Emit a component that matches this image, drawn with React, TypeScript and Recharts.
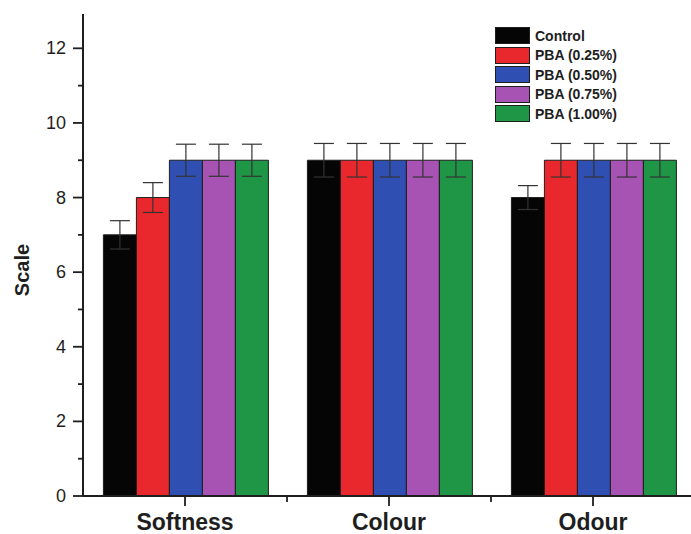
import React from 'react';
import { BarChart, Bar, XAxis, YAxis, ErrorBar, Legend, Label } from 'recharts';

const categories = ['Softness', 'Colour', 'Odour'];
const seriesNames = ['Control', 'PBA (0.25%)', 'PBA (0.50%)', 'PBA (0.75%)', 'PBA (1.00%)'];
const controlValues = [7, 9, 8];
const pba025Values = [8, 9, 9];
const pba050Values = [9, 9, 9];
const pba075Values = [9, 9, 9];
const pba100Values = [9, 9, 9];
const controlErr = [0.38, 0.45, 0.32];
const pba025Err = [0.4, 0.45, 0.45];
const pba050Err = [0.43, 0.45, 0.45];
const pba075Err = [0.43, 0.45, 0.45];
const pba100Err = [0.43, 0.45, 0.45];
const yTicks = [0, 1, 2, 3, 4, 5, 6, 7, 8, 9, 10, 11, 12];
const yMax = 12.92;

const colors = ['#050505', '#e8282c', '#2f4fb2', '#a653b3', '#1f9546'];
const keys = ['c', 'p1', 'p2', 'p3', 'p4'];
const valueArrays = [controlValues, pba025Values, pba050Values, pba075Values, pba100Values];
const errArrays = [controlErr, pba025Err, pba050Err, pba075Err, pba100Err];

const data = categories.map((name, i) => {
  const row: any = { name };
  keys.forEach((k, s) => {
    row[k] = valueArrays[s][i];
    row[k + 'Err'] = errArrays[s][i];
  });
  return row;
});

const FONT = '"Liberation Sans", Arial, Helvetica, sans-serif';
const CHART_W = 700;
const CHART_H = 534;
const MARGIN = { top: 14, right: 5, left: 0, bottom: 0 };
const Y_W = 83;
const X_H = 38;
const BAND = (CHART_W - MARGIN.left - MARGIN.right - Y_W) / categories.length;
const INK = '#1e1e1e';

const YTick = (props: any) => {
  const { x, y, payload } = props;
  const v = Number(payload.value);
  const major = Math.round(v) % 2 === 0;
  const len = major ? 10 : 5;
  return (
    <g>
      <path d={`M${x - len},${y}H${x}`} stroke={INK} strokeWidth={1.8} fill="none" />
      {major && (
        <text x={x - 17} y={y} textAnchor="end" dominantBaseline="central" fontSize={18} fill={INK} fontFamily={FONT}>
          {v}
        </text>
      )}
    </g>
  );
};

const XTick = (props: any) => {
  const { x, y, payload } = props;
  const bx = x + BAND / 2;
  return (
    <g>
      <path d={`M${x},${y}V${y + 10}`} stroke={INK} strokeWidth={1.8} fill="none" />
      <path d={`M${bx},${y}V${y + 6}`} stroke={INK} strokeWidth={1.8} fill="none" />
      <text x={x} y={y + 34} textAnchor="middle" fontSize={23} fontWeight="bold" fill={INK} fontFamily={FONT}>
        {payload.value}
      </text>
    </g>
  );
};

const ScaleLabel = (props: any) => {
  const vb = props.viewBox || { y: 14, height: 482 };
  const cx = 22;
  const cy = vb.y + vb.height / 2 + 15;
  return (
    <text
      x={cx}
      y={cy}
      transform={`rotate(-90 ${cx} ${cy})`}
      textAnchor="middle"
      dominantBaseline="central"
      fontSize={20}
      fontWeight="bold"
      fill={INK}
      fontFamily={FONT}
    >
      Scale
    </text>
  );
};

const LegendContent = (props: any) => {
  const payload = props.payload || [];
  return (
    <div style={{ fontFamily: FONT }}>
      {payload.map((p: any, i: number) => (
        <div key={i} style={{ display: 'flex', alignItems: 'center', height: 19.5 }}>
          <div
            style={{
              width: 33,
              height: 15,
              background: p.color,
              border: `1px solid ${INK}`,
            }}
          />
          <span style={{ marginLeft: 5, fontSize: 14, fontWeight: 'bold', color: INK, whiteSpace: 'nowrap' }}>
            {p.value}
          </span>
        </div>
      ))}
    </div>
  );
};

export default function App() {
  return (
    <div style={{ position: 'absolute', left: 0, top: 0, width: 691, height: 534, overflow: 'hidden', background: '#fff' }}>
      <BarChart width={CHART_W} height={CHART_H} data={data} margin={MARGIN} barCategoryGap="10%" barGap={0}>
        <XAxis
          dataKey="name"
          height={X_H}
          interval={0}
          tickSize={0}
          tickMargin={0}
          tickLine={false}
          tick={<XTick />}
          axisLine={{ stroke: INK, strokeWidth: 2 }}
        />
        <XAxis
          xAxisId="top"
          dataKey="name"
          orientation="top"
          height={0}
          tick={false}
          tickLine={false}
          axisLine={{ stroke: INK, strokeWidth: 2 }}
        />
        <YAxis
          width={Y_W}
          domain={[0, yMax]}
          ticks={yTicks}
          interval={0}
          allowDataOverflow
          tickSize={0}
          tickMargin={0}
          tickLine={false}
          tick={<YTick />}
          axisLine={{ stroke: INK, strokeWidth: 2 }}
        >
          <Label content={<ScaleLabel />} />
        </YAxis>
        <Legend
          layout="vertical"
          align="center"
          verticalAlign="middle"
          content={<LegendContent />}
          wrapperStyle={{ left: 495, top: 26, width: 150, height: 'auto' }}
        />
        {keys.map((k, s) => (
          <Bar key={k} dataKey={k} name={seriesNames[s]} fill={colors[s]} stroke={INK} strokeWidth={1} isAnimationActive={false}>
            <ErrorBar dataKey={k + 'Err'} width={10} stroke="#333" strokeWidth={1.2} direction="y" />
          </Bar>
        ))}
      </BarChart>
    </div>
  );
}
